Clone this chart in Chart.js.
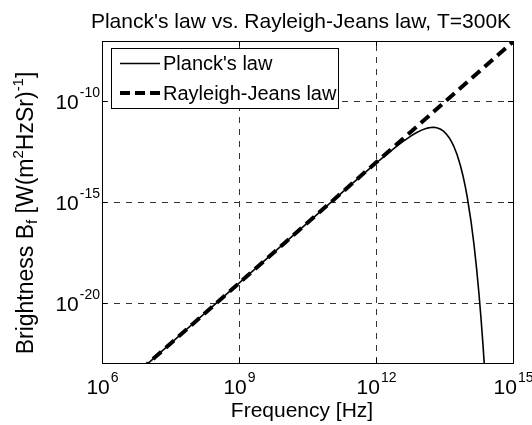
<!DOCTYPE html>
<html>
<head>
<meta charset="utf-8">
<title>Planck vs Rayleigh-Jeans</title>
<script src="https://cdn.jsdelivr.net/npm/chart.js@4.4.1/dist/chart.umd.min.js"></script>
<style>
  html, body { margin: 0; padding: 0; background: #fff; }
  canvas { display: block; }
</style>
</head>
<body>
<canvas id="brightnessChart" width="532" height="425"></canvas>
<script>
// Spectral brightness at T = 300 K, frequency in Hz, brightness in W/(m^2 Hz sr)
const planckFreq = [
  1e6, 1e7, 1e8, 1e9, 1e10, 1e11, 3e11, 1e12, 2e12, 3e12,
  4e12, 5e12, 6e12, 7e12, 8e12, 1e13, 1.2e13, 1.4e13, 1.6e13, 1.8e13,
  2e13, 2.3e13, 2.6e13, 3e13, 3.5e13, 4e13, 4.5e13, 5e13, 6e13, 7e13,
  8e13, 9e13, 1e14, 1.2e14, 1.4e14, 1.6e14, 1.8e14, 2e14, 2.2e14, 2.4e14
];
const planckBright = [
  9.22e-26, 9.22e-24, 9.22e-22, 9.22e-20, 9.21e-18, 9.14e-16, 8.10e-15, 8.50e-14, 3.13e-13, 6.46e-13,
  1.05e-12, 1.50e-12, 1.98e-12, 2.45e-12, 2.91e-12, 3.73e-12, 4.38e-12, 4.82e-12, 5.06e-12, 5.12e-12,
  5.02e-12, 4.65e-12, 4.11e-12, 3.31e-12, 2.35e-12, 1.57e-12, 1.00e-12, 6.19e-13, 2.16e-13, 6.93e-14,
  2.09e-14, 6.01e-15, 1.66e-15, 1.17e-16, 7.60e-18, 4.63e-19, 2.69e-20, 1.50e-21, 8.16e-23, 4.32e-24
];

const rjFreq = [1e6, 1e7, 1e8, 1e9, 1e10, 1e11, 1e12, 1e13, 1e14, 1e15];
const rjBright = [9.22e-26, 9.22e-24, 9.22e-22, 9.22e-20, 9.22e-18, 9.22e-16, 9.22e-14, 9.22e-12, 9.22e-10, 9.22e-8];

// decade exponents shown on the axes
const xTickExp = [6, 9, 12, 15];
const yTickExp = [-20, -15, -10];

const FONT = '"Liberation Sans", Arial, Helvetica, sans-serif';
const MAIN_PX = 21;
const SUP_PX = 14;

function toPoints(xs, ys) {
  return xs.map((x, i) => ({ x: x, y: ys[i] }));
}

// "10" with a raised exponent; align = 'center' | 'right'
function drawPower(ctx, exp, x, baseY, align) {
  const main = '10', sup = String(exp);
  ctx.font = MAIN_PX + 'px ' + FONT;
  const wMain = ctx.measureText(main).width;
  ctx.font = SUP_PX + 'px ' + FONT;
  const wSup = ctx.measureText(sup).width;
  const total = wMain + wSup;
  let left = align === 'center' ? x - total / 2 : x - total;
  ctx.textAlign = 'left';
  ctx.textBaseline = 'alphabetic';
  ctx.font = MAIN_PX + 'px ' + FONT;
  ctx.fillText(main, left, baseY);
  ctx.font = SUP_PX + 'px ' + FONT;
  ctx.fillText(sup, left + wMain + 1, baseY - 12);
}

// text made of normal / sub / sup pieces, drawn along the current x axis
function drawRich(ctx, parts, cx, baseY, mainPx, supPx) {
  const widths = parts.map(p => {
    ctx.font = (p.s === 'n' ? mainPx : supPx) + 'px ' + FONT;
    return ctx.measureText(p.t).width;
  });
  let x = cx - widths.reduce((a, b) => a + b, 0) / 2;
  ctx.textAlign = 'left';
  ctx.textBaseline = 'alphabetic';
  parts.forEach((p, i) => {
    ctx.font = (p.s === 'n' ? mainPx : supPx) + 'px ' + FONT;
    const dy = p.s === 'sup' ? -10 : (p.s === 'sub' ? 4 : 0);
    ctx.fillText(p.t, x, baseY + dy);
    x += widths[i];
  });
}

const axesPlugin = {
  id: 'matlabAxes',
  beforeDatasetsDraw(chart) {
    const { ctx, chartArea: a, scales: { x, y } } = chart;
    ctx.save();
    ctx.strokeStyle = '#333';
    ctx.lineWidth = 1;
    ctx.setLineDash([6, 6]);
    xTickExp.forEach(e => {
      const px = Math.round(x.getPixelForValue(Math.pow(10, e))) + 0.5;
      if (px <= a.left + 1 || px >= a.right - 1) return;
      ctx.beginPath();
      ctx.moveTo(px, a.bottom);
      ctx.lineTo(px, a.top);
      ctx.stroke();
    });
    yTickExp.forEach(e => {
      const py = Math.round(y.getPixelForValue(Math.pow(10, e))) + 0.5;
      ctx.beginPath();
      ctx.moveTo(a.left, py);
      ctx.lineTo(a.right, py);
      ctx.stroke();
    });
    ctx.restore();
  },
  afterDatasetsDraw(chart) {
    const { ctx, chartArea: a, scales: { x, y } } = chart;
    ctx.save();
    ctx.setLineDash([]);
    ctx.strokeStyle = '#000';
    ctx.lineWidth = 1;

    // frame
    ctx.strokeRect(Math.round(a.left) + 0.5, Math.round(a.top) + 0.5,
                   Math.round(a.right - a.left), Math.round(a.bottom - a.top));

    // inward ticks on all four sides
    const tl = 5;
    ctx.beginPath();
    xTickExp.forEach(e => {
      const px = Math.round(x.getPixelForValue(Math.pow(10, e))) + 0.5;
      ctx.moveTo(px, a.bottom); ctx.lineTo(px, a.bottom - tl);
      ctx.moveTo(px, a.top); ctx.lineTo(px, a.top + tl);
    });
    yTickExp.forEach(e => {
      const py = Math.round(y.getPixelForValue(Math.pow(10, e))) + 0.5;
      ctx.moveTo(a.left, py); ctx.lineTo(a.left + tl, py);
      ctx.moveTo(a.right, py); ctx.lineTo(a.right - tl, py);
    });
    ctx.stroke();

    // legend
    const lx = 111.5, ly = 48.5, lw = 227, lh = 60;
    ctx.fillStyle = '#fff';
    ctx.fillRect(lx, ly, lw, lh);
    ctx.strokeRect(lx, ly, lw, lh);
    ctx.lineWidth = 1.6;
    ctx.beginPath();
    ctx.moveTo(120, 63.5); ctx.lineTo(160, 63.5);
    ctx.stroke();
    ctx.lineWidth = 4;
    ctx.setLineDash([10, 5]);
    ctx.beginPath();
    ctx.moveTo(120, 93); ctx.lineTo(160, 93);
    ctx.stroke();
    ctx.setLineDash([]);
    ctx.fillStyle = '#000';
    ctx.font = '20px ' + FONT;
    ctx.textAlign = 'left';
    ctx.textBaseline = 'middle';
    ctx.fillText("Planck's law", 163, 64);
    ctx.fillText('Rayleigh-Jeans law', 163, 94);
    ctx.restore();
  },
  afterDraw(chart) {
    const { ctx, chartArea: a, scales: { x, y } } = chart;
    ctx.save();
    ctx.fillStyle = '#000';

    // tick labels
    xTickExp.forEach(e => {
      drawPower(ctx, e, x.getPixelForValue(Math.pow(10, e)), a.bottom + 31, 'center');
    });
    yTickExp.forEach(e => {
      drawPower(ctx, e, a.left - 3, y.getPixelForValue(Math.pow(10, e)) + 8, 'right');
    });

    // title
    ctx.font = MAIN_PX + 'px ' + FONT;
    ctx.textAlign = 'center';
    ctx.textBaseline = 'alphabetic';
    ctx.fillText("Planck's law vs. Rayleigh-Jeans law, T=300K", 301, 28);

    // x axis label
    ctx.fillText('Frequency [Hz]', 302, 417);

    // y axis label, rotated
    ctx.translate(33, 213);
    ctx.rotate(-Math.PI / 2);
    drawRich(ctx, [
      { t: 'Brightness B', s: 'n' },
      { t: 'f', s: 'sub' },
      { t: ' [W(m', s: 'n' },
      { t: '2', s: 'sup' },
      { t: 'HzSr)', s: 'n' },
      { t: '-1', s: 'sup' },
      { t: ']', s: 'n' }
    ], 0, 0, 23, 15);
    ctx.restore();
  }
};

const ctx = document.getElementById('brightnessChart').getContext('2d');
const brightnessChart = new Chart(ctx, {
  type: 'line',
  data: {
    datasets: [
      {
        label: "Planck's law",
        data: toPoints(planckFreq, planckBright),
        borderColor: '#000',
        borderWidth: 1.6,
        pointRadius: 0,
        fill: false,
        order: 1
      },
      {
        label: 'Rayleigh-Jeans law',
        data: toPoints(rjFreq, rjBright),
        borderColor: '#000',
        borderWidth: 4,
        borderDash: [11, 6],
        pointRadius: 0,
        fill: false,
        order: 0
      }
    ]
  },
  options: {
    responsive: false,
    animation: false,
    devicePixelRatio: 1,
    layout: { padding: { left: 102, top: 41, right: 19, bottom: 62 } },
    scales: {
      x: { type: 'logarithmic', min: 1e6, max: 1e15, display: false },
      y: { type: 'logarithmic', min: 1e-23, max: 1e-7, display: false }
    },
    plugins: {
      legend: { display: false },
      tooltip: { enabled: false },
      title: { display: false }
    }
  },
  plugins: [axesPlugin]
});
</script>
</body>
</html>
